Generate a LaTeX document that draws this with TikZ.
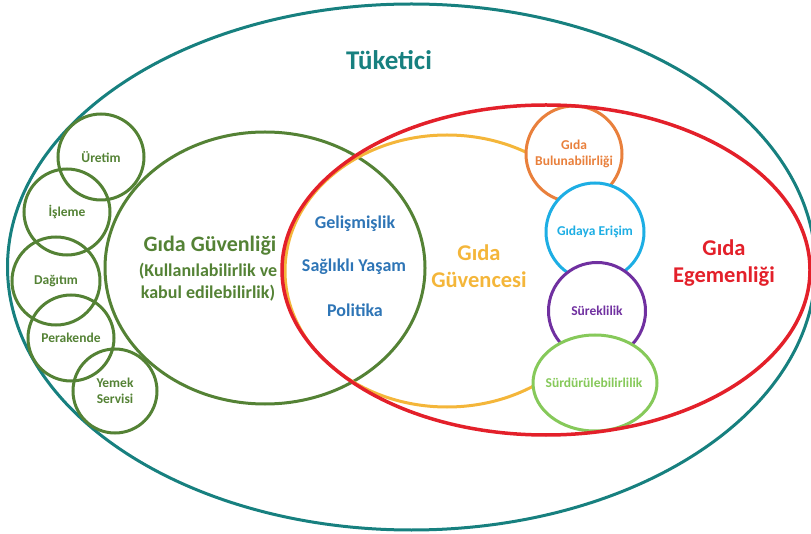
\documentclass[tikz,border=0pt]{standalone}
\usepackage{fontspec}
\setmainfont{Carlito}
\definecolor{tealC}{HTML}{17807F}
\definecolor{greenC}{HTML}{548235}
\definecolor{redC}{HTML}{E3202A}
\definecolor{yellowC}{HTML}{F4B63A}
\definecolor{blueC}{HTML}{2E75B6}
\definecolor{orangeC}{HTML}{E9803C}
\definecolor{cyanC}{HTML}{1DAEE4}
\definecolor{purpleC}{HTML}{7030A0}
\definecolor{lgreenC}{HTML}{86C95A}
\tikzset{
  ring/.style={circle, draw=#1, line width=3pt, inner sep=0pt, align=center, font=\bfseries\fontsize{13.5}{16.5}\selectfont},
  ovalring/.style={draw=#1, line width=3pt},
  lbl/.style 2 args={align=center, font=\bfseries\fontsize{#1}{#2}\selectfont}
}
\begin{document}
\begin{tikzpicture}[x=1pt,y=-1pt]
\useasboundingbox (0,0) rectangle (811,534);
% outer consumer ellipse
\draw[ovalring=tealC] (411.5,267) ellipse [x radius=404pt, y radius=263pt];
% food safety
\draw[ovalring=greenC] (265,268) ellipse [x radius=160pt, y radius=136pt];
% supply chain circles
\node[ring=greenC, minimum size=86pt, text=greenC] (uretim) at (101,157) {Üretim};
\node[ring=greenC, minimum size=86pt, text=greenC] (isleme) at (67,212) {İşleme};
\node[ring=greenC, minimum size=88pt, text=greenC] (dagitim) at (56,281) {Dağıtım};
\node[ring=greenC, minimum size=86pt, text=greenC] (perakende) at (71,338) {Perakende};
\node[ring=greenC, minimum size=84pt, text=greenC] (yemek) at (115,391) {Yemek\\Servisi};
% food security
\draw[ovalring=yellowC] (447,271) ellipse [x radius=162pt, y radius=136pt];
% pillars
\node[ring=orangeC, minimum size=96pt, fill=white, text=orangeC] (bulun) at (574,154) {Gıda\\Bulunabilirliği};
\node[ring=cyanC, minimum size=98pt, fill=white, text=cyanC] (erisim) at (595,232) {Gıdaya Erişim};
\node[ring=purpleC, minimum size=97pt, fill=white, text=purpleC] (surek) at (597,311) {Süreklilik};
\draw[ovalring=lgreenC, fill=white] (595,383) ellipse [x radius=62pt, y radius=48pt];
\node[text=lgreenC, font=\bfseries\fontsize{13.5}{16}\selectfont] (surdur) at (594,383) {Sürdürülebilirlilik};
% food sovereignty
\draw[ovalring=redC, line width=3.5pt] (546,270) ellipse [x radius=264pt, y radius=165pt];
% labels
\node[lbl={27}{32}, text=tealC] (tuketici) at (389,60) {Tüketici};
\node[lbl={22}{26}, text=greenC] (guvenligi) at (210,246) {Gıda Güvenliği};
\node[lbl={18}{22}, text=greenC] (kullan) at (208,282) {(Kullanılabilirlik ve\\kabul edilebilirlik)};
\node[lbl={18}{22}, text=blueC] (gelis) at (355,224) {Gelişmişlik};
\node[lbl={18}{22}, text=blueC] (saglik) at (354,267) {Sağlıklı Yaşam};
\node[lbl={18}{22}, text=blueC] (politika) at (355,310) {Politika};
\node[lbl={22.5}{26.5}, text=yellowC] (guvencesi) at (479,266) {Gıda\\Güvencesi};
\node[lbl={22.5}{27}, text=redC] (egemen) at (724,263) {Gıda\\Egemenliği};
\end{tikzpicture}
\end{document}
